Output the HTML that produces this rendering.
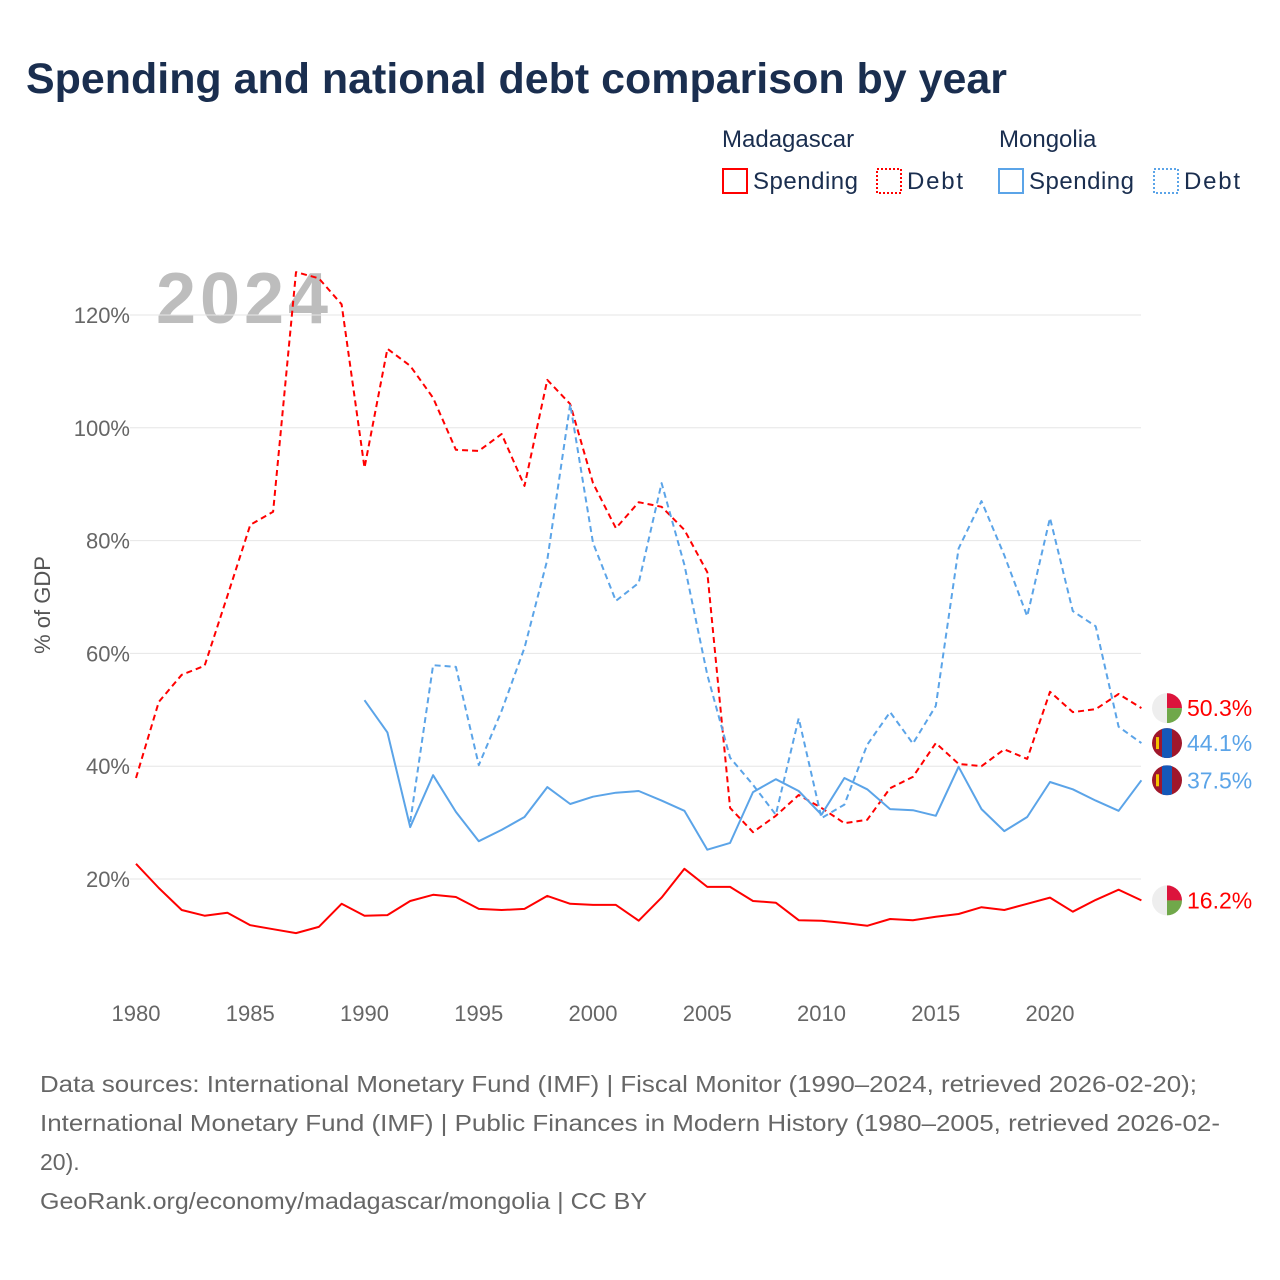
<!DOCTYPE html>
<html><head><meta charset="utf-8"><style>
body{margin:0;background:#fff;font-family:"Liberation Sans",sans-serif;}
#wrap{position:relative;width:1280px;height:1280px;overflow:hidden}
</style></head><body><div id="wrap">
<svg id="chart" width="1280" height="1280">
<text x="26" y="93" font-size="43" font-weight="bold" fill="#1a2e4f" textLength="981" lengthAdjust="spacingAndGlyphs">Spending and national debt comparison by year</text>
<g font-size="24" fill="#1a2e4f">
<text x="722" y="147">Madagascar</text>
<text x="999" y="147">Mongolia</text>
<g><rect x="723" y="169" width="24" height="24" fill="none" stroke="#ff0000" stroke-width="2"/><text x="753" y="189" textLength="105">Spending</text></g>
<g><rect x="877" y="169" width="24" height="24" fill="none" stroke="#ff0000" stroke-width="2" stroke-dasharray="2,2"/><text x="907" y="189" textLength="56">Debt</text></g>
<g><rect x="999" y="169" width="24" height="24" fill="none" stroke="#5ba4e8" stroke-width="2"/><text x="1029" y="189" textLength="105">Spending</text></g>
<g><rect x="1154" y="169" width="24" height="24" fill="none" stroke="#5ba4e8" stroke-width="2" stroke-dasharray="2,2"/><text x="1184" y="189" textLength="56">Debt</text></g>
</g>
<text x="156" y="323" font-size="72" font-weight="bold" fill="#bdbdbd" textLength="172">2024</text>
<g id="grid"></g><g id="series"></g><g id="labels"></g>
<text transform="translate(50,605) rotate(-90)" text-anchor="middle" font-size="22" fill="#555">% of GDP</text>
<g font-size="23" fill="#666">
<text x="40" y="1092" textLength="1157" lengthAdjust="spacingAndGlyphs">Data sources: International Monetary Fund (IMF) | Fiscal Monitor (1990–2024, retrieved 2026-02-20);</text>
<text x="40" y="1131" textLength="1180" lengthAdjust="spacingAndGlyphs">International Monetary Fund (IMF) | Public Finances in Modern History (1980–2005, retrieved 2026-02-</text>
<text x="40" y="1170">20).</text>
<text x="40" y="1209" textLength="607" lengthAdjust="spacingAndGlyphs">GeoRank.org/economy/madagascar/mongolia | CC BY</text>
</g>
</svg></div>
<script>
const yTicks=[20,40,60,80,100,120];
const xTicks=[1980,1985,1990,1995,2000,2005,2010,2015,2020];
const madYears=[];for(let y=1980;y<=2024;y++)madYears.push(y);
const madDebt=[37.9,51.4,56.2,57.8,70.2,82.8,85.1,127.6,126.5,121.9,92.9,114,111,105.3,96.1,95.9,98.9,89.7,108.5,104.2,90.2,82.2,86.8,86,81.9,74.4,32.6,28.3,31.2,34.9,32.6,29.9,30.5,36.1,38.1,44.1,40.4,40,43,41.3,53.2,49.6,50.1,52.8,50.3];
const madSpend=[22.7,18.4,14.5,13.5,14,11.8,11.1,10.4,11.5,15.6,13.5,13.6,16.1,17.2,16.8,14.7,14.5,14.7,17,15.6,15.4,15.4,12.6,16.7,21.8,18.6,18.6,16.1,15.8,12.7,12.6,12.2,11.7,12.9,12.7,13.3,13.8,15,14.5,15.6,16.7,14.2,16.3,18.1,16.2];
const monSpendYears=[];for(let y=1990;y<=2024;y++)monSpendYears.push(y);
const monSpend=[51.7,46,29.2,38.4,31.9,26.7,28.7,31,36.3,33.3,34.6,35.3,35.6,33.9,32.1,25.2,26.4,35.4,37.7,35.6,31.4,37.9,35.9,32.4,32.2,31.2,39.9,32.4,28.5,31,37.2,35.9,33.9,32.1,37.5];
const monDebtYears=[];for(let y=1992;y<=2024;y++)monDebtYears.push(y);
const monDebt=[30.1,57.9,57.6,40.2,49.8,61,76.6,104.2,79.6,69.3,72.5,90.2,75.7,56.2,41.5,36.7,31.4,48.5,30.8,33.2,43.8,49.6,44,50.7,78.6,87,77.4,66.6,84,67.5,64.8,47,44.1];
const NS='http://www.w3.org/2000/svg';
const X=y=>136+(y-1980)*22.85, Y=v=>991.8-v*5.64;
function mk(t,a,p){const e=document.createElementNS(NS,t);for(const k in a)e.setAttribute(k,a[k]);p.appendChild(e);return e;}
const grid=document.getElementById('grid');
yTicks.forEach(v=>{const l=mk('line',{x1:130,x2:1141,y1:Y(v),y2:Y(v),stroke:'#e6e6e6','stroke-width':1},grid);


const t=mk('text',{x:130,y:Y(v)+8,'text-anchor':'end','font-size':22,fill:'#666'},grid);t.textContent=v+'%';

});
xTicks.forEach(v=>{const t=mk('text',{x:X(v),y:1021,'text-anchor':'middle','font-size':22,fill:'#666'},grid);t.textContent=v;

});
const S=document.getElementById('series');
function line(xs,vs,col,dash,name){const p=mk('path',{d:xs.map((y,i)=>(i?'L':'M')+X(y).toFixed(1)+','+Y(vs[i]).toFixed(1)).join(''),fill:'none',stroke:col,'stroke-width':2,'stroke-dasharray':dash,'stroke-linejoin':'round'},S);

}
line(madYears,madDebt,'#ff0000','6,4','madagascar-debt-line');
line(madYears,madSpend,'#ff0000','none','madagascar-spending-line');
line(monDebtYears,monDebt,'#5ba4e8','6,4','mongolia-debt-line');
line(monSpendYears,monSpend,'#5ba4e8','none','mongolia-spending-line');
const L=document.getElementById('labels');
function flag(cy,mad){const g=mk('g',{},L);const cx=1167,r=15;
const id='c'+Math.round(cy);const cp=mk('clipPath',{id:id},g);mk('circle',{cx:cx,cy:cy,r:r},cp);
const h=mk('g',{'clip-path':'url(#'+id+')'},g);
if(mad){mk('rect',{x:cx-r,y:cy-r,width:15,height:30,fill:'#eee'},h);mk('rect',{x:cx,y:cy-r,width:15,height:15,fill:'#dc143c'},h);mk('rect',{x:cx,y:cy,width:15,height:15,fill:'#70a84a'},h);}
else{mk('rect',{x:cx-r,y:cy-r,width:30,height:30,fill:'#a0172b'},h);mk('rect',{x:cx-5,y:cy-r,width:10,height:30,fill:'#1558b8'},h);mk('rect',{x:cx-11,y:cy-6,width:3,height:12,fill:'#f5c400'},h);}

}
function lab(v,col,mad,name){const y=Y(v);flag(y,mad);const t=mk('text',{x:1187,y:y+8,'font-size':23,fill:col},L);t.textContent=v.toFixed(1)+'%';

}
lab(madDebt[madDebt.length-1],'#ff0000',true,'madagascar-debt-end-label');
lab(madSpend[madSpend.length-1],'#ff0000',true,'madagascar-spending-end-label');
lab(monDebt[monDebt.length-1],'#5ba4e8',false,'mongolia-debt-end-label');
lab(monSpend[monSpend.length-1],'#5ba4e8',false,'mongolia-spending-end-label');
</script></body></html>
